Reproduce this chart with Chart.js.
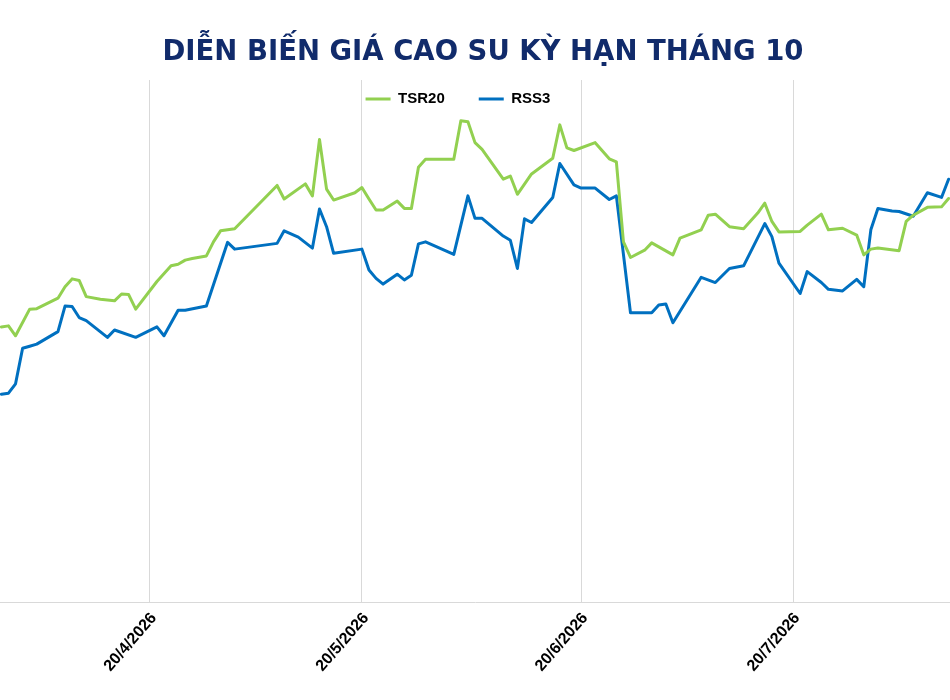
<!DOCTYPE html>
<html>
<head>
<meta charset="utf-8">
<script src="https://cdn.jsdelivr.net/npm/chart.js@4.4.1/dist/chart.umd.min.js"></script>
<style>
html,body{margin:0;padding:0;background:#ffffff;}
canvas{display:block;}
</style>
</head>
<body>
<canvas id="c" width="950" height="700"></canvas>
<script>
const chartTitle = 'DIỄN BIẾN GIÁ CAO SU KỲ HẠN THÁNG 10';
const tickLabels = ['20/4/2026', '20/5/2026', '20/6/2026', '20/7/2026'];

const tsr20Dates = [
  '30/3/2026','31/3/2026','1/4/2026','3/4/2026','4/4/2026','7/4/2026','8/4/2026','9/4/2026','10/4/2026','11/4/2026',
  '13/4/2026','15/4/2026','16/4/2026','17/4/2026','18/4/2026','21/4/2026','23/4/2026','24/4/2026','25/4/2026','26/4/2026',
  '28/4/2026','29/4/2026','30/4/2026','2/5/2026','8/5/2026','9/5/2026','12/5/2026','13/5/2026','14/5/2026','15/5/2026',
  '16/5/2026','19/5/2026','20/5/2026','21/5/2026','22/5/2026','23/5/2026','25/5/2026','26/5/2026','27/5/2026','28/5/2026',
  '29/5/2026','2/6/2026','3/6/2026','4/6/2026','5/6/2026','6/6/2026','9/6/2026','10/6/2026','11/6/2026','13/6/2026',
  '16/6/2026','17/6/2026','18/6/2026','19/6/2026','22/6/2026','24/6/2026','25/6/2026','26/6/2026','27/6/2026','29/6/2026',
  '30/6/2026','3/7/2026','4/7/2026','7/7/2026','8/7/2026','9/7/2026','11/7/2026','13/7/2026','15/7/2026','16/7/2026',
  '17/7/2026','18/7/2026','21/7/2026','22/7/2026','24/7/2026','25/7/2026','27/7/2026','29/7/2026','30/7/2026','31/7/2026',
  '1/8/2026','4/8/2026','5/8/2026','6/8/2026','8/8/2026','10/8/2026','11/8/2026'
];
const tsr20Values = [
  202.7,202.9,201.0,206.1,206.2,208.2,210.4,211.9,211.6,208.5,
  208.0,207.7,209.0,208.9,206.1,211.4,214.4,214.7,215.5,215.8,
  216.3,219.0,221.1,221.5,229.8,227.2,230.1,227.8,238.6,229.1,
  227.0,228.4,229.4,227.2,225.1,225.1,226.8,225.4,225.4,233.3,
  234.8,234.8,242.2,242.0,238.0,236.7,231.0,231.6,228.1,232.0,
  235.0,241.4,237.0,236.5,238.0,234.9,234.3,219.0,216.0,217.4,
  218.8,216.5,219.7,221.3,224.1,224.3,221.9,221.5,224.5,226.4,
  222.9,220.9,221.0,222.2,224.3,221.3,221.6,220.3,216.5,217.6,
  217.8,217.3,222.9,224.1,225.6,225.7,227.3
];

const rss3Dates = [
  '30/3/2026','31/3/2026','1/4/2026','2/4/2026','3/4/2026','4/4/2026','7/4/2026','8/4/2026','9/4/2026','10/4/2026',
  '11/4/2026','14/4/2026','15/4/2026','18/4/2026','21/4/2026','22/4/2026','24/4/2026','25/4/2026','28/4/2026','1/5/2026',
  '2/5/2026','8/5/2026','9/5/2026','11/5/2026','13/5/2026','14/5/2026','15/5/2026','16/5/2026','20/5/2026','21/5/2026',
  '22/5/2026','23/5/2026','25/5/2026','26/5/2026','27/5/2026','28/5/2026','29/5/2026','2/6/2026','4/6/2026','5/6/2026',
  '6/6/2026','9/6/2026','10/6/2026','11/6/2026','12/6/2026','13/6/2026','16/6/2026','17/6/2026','19/6/2026','20/6/2026',
  '22/6/2026','24/6/2026','25/6/2026','27/6/2026','30/6/2026','1/7/2026','2/7/2026','3/7/2026','7/7/2026','9/7/2026',
  '11/7/2026','13/7/2026','16/7/2026','17/7/2026','18/7/2026','21/7/2026','22/7/2026','24/7/2026','25/7/2026','27/7/2026',
  '29/7/2026','30/7/2026','31/7/2026','1/8/2026','3/8/2026','4/8/2026','6/8/2026','8/8/2026','10/8/2026','11/8/2026'
];
const rss3Values = [
  189.8,190.0,191.8,198.6,199.0,199.4,201.8,206.7,206.6,204.5,
  203.9,200.7,202.1,200.7,202.7,201.0,205.9,205.9,206.7,218.9,
  217.6,218.7,221.1,219.9,217.8,225.3,221.9,216.8,217.6,213.6,
  212.0,210.9,212.8,211.7,212.6,218.6,219.0,216.6,227.8,223.5,
  223.5,220.1,219.3,213.9,223.4,222.7,227.5,234.0,229.9,229.3,
  229.3,227.1,227.8,205.4,205.4,206.9,207.1,203.5,212.2,211.2,
  213.9,214.4,222.5,220.0,214.9,209.1,213.3,211.2,209.9,209.6,
  211.8,210.4,221.3,225.4,224.9,224.8,223.9,228.4,227.5,231.0
];

function parseDay(s) {
  const p = s.split('/').map(Number);
  return Date.UTC(p[2], p[1] - 1, p[0]) / 86400000;
}
const origin = parseDay(tickLabels[0]);
const dayOf = s => parseDay(s) - origin;
const toPoints = (dates, values) => dates.map((d, i) => ({ x: dayOf(d), y: values[i] }));
const tickDays = tickLabels.map(dayOf);

// legend sits inside the top of the plot area, title slightly right of centre
const boxTweak = {
  id: 'boxTweak',
  afterInit(chart) {
    const lg = chart.legend;
    const fit = lg.fit;
    lg.fit = function () { fit.call(this); this.height = 16; };
    const lgDraw = lg.draw;
    lg.draw = function () {
      const ctx = this.ctx;
      const b = this.bottom;
      this.bottom = b + 60;
      ctx.save(); ctx.translate(-17, -6.5); lgDraw.call(this); ctx.restore();
      this.bottom = b;
    };
    const tt = chart.titleBlock;
    if (tt) {
      const tDraw = tt.draw;
      tt.draw = function () {
        const ctx = this.ctx;
        ctx.save(); ctx.translate(8, 0); tDraw.call(this); ctx.restore();
      };
    }
  }
};

new Chart(document.getElementById('c'), {
  type: 'line',
  data: {
    datasets: [
      {
        label: 'TSR20',
        data: toPoints(tsr20Dates, tsr20Values),
        borderColor: '#92D050',
        backgroundColor: '#92D050',
        borderWidth: 3,
        pointRadius: 0,
        tension: 0,
        borderJoinStyle: 'round',
        borderCapStyle: 'round'
      },
      {
        label: 'RSS3',
        data: toPoints(rss3Dates, rss3Values),
        borderColor: '#0070C0',
        backgroundColor: '#0070C0',
        borderWidth: 3,
        pointRadius: 0,
        tension: 0,
        borderJoinStyle: 'round',
        borderCapStyle: 'round'
      }
    ]
  },
  options: {
    responsive: false,
    animation: false,
    layout: { padding: 0 },
    plugins: {
      title: {
        display: true,
        text: chartTitle,
        color: '#112B6B',
        font: { family: 'DejaVu Sans', size: 27.5, weight: 'bold', lineHeight: 0.8 },
        padding: { top: 42, bottom: 0 }
      },
      legend: {
        display: true,
        labels: {
          usePointStyle: true,
          pointStyle: 'line',
          pointStyleWidth: 25,
          padding: 34,
          color: '#000000',
          font: { family: 'Liberation Sans', size: 15, weight: 'bold' }
        }
      },
      tooltip: { enabled: false }
    },
    scales: {
      x: {
        type: 'linear',
        bounds: 'data',
        min: -21.2,
        max: 113.2,
        afterBuildTicks(scale) { scale.ticks = tickDays.map(v => ({ value: v })); },
        afterFit(scale) { scale.height = 98; },
        grid: { color: '#d9d9d9', lineWidth: 1, drawTicks: false },
        border: { display: true, color: '#d9d9d9', width: 1 },
        ticks: {
          autoSkip: false,
          minRotation: 49,
          maxRotation: 49,
          padding: 7,
          labelOffset: 4,
          color: '#000000',
          font: { family: 'Liberation Sans', size: 16, weight: 'bold' },
          callback: (v, i) => tickLabels[i]
        }
      },
      y: {
        display: false,
        min: 150,
        max: 250
      }
    }
  },
  plugins: [boxTweak]
});
</script>
</body>
</html>
